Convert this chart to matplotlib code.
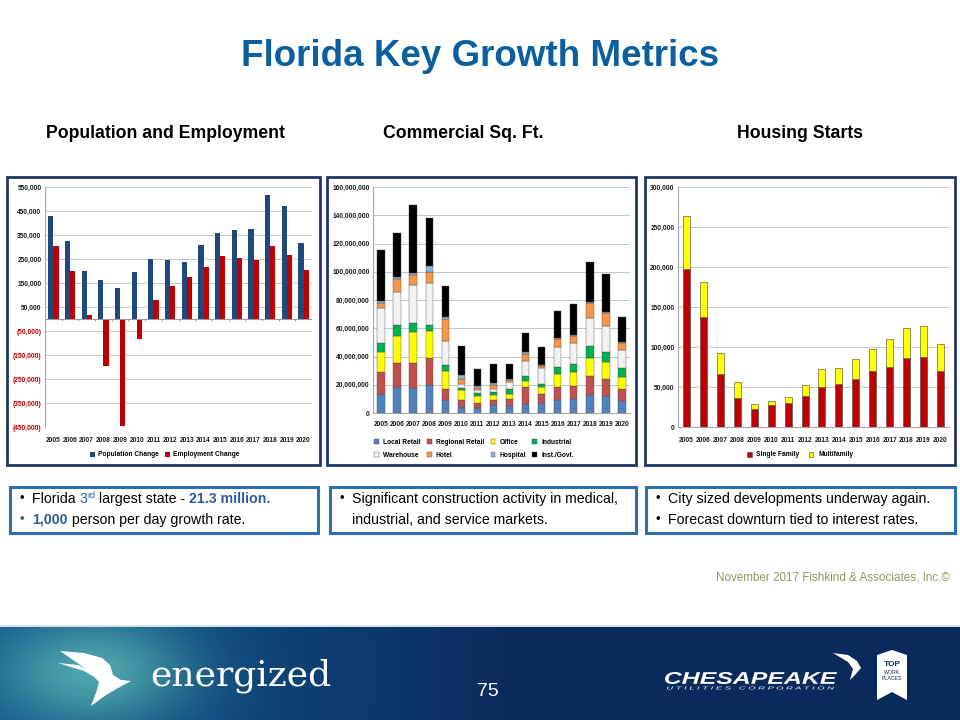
import matplotlib
matplotlib.use('Agg')
import matplotlib.pyplot as plt
import numpy as np
from matplotlib.patches import Rectangle, Polygon, PathPatch
from matplotlib.textpath import TextPath
from matplotlib.font_manager import FontProperties
from matplotlib.transforms import Affine2D

# ---- data ----
years = [str(y) for y in range(2005, 2021)]

pop_change = [429000, 326000, 201000, 161000, 128000, 197000, 250000, 247000,
              239000, 308000, 357000, 369000, 375000, 517000, 471000, 318000]
emp_change = [304000, 201000, 17000, -194000, -444000, -83000, 79000, 139000,
              176000, 218000, 261000, 254000, 247000, 304000, 267000, 204000]

# commercial square feet, millions per category
local_retail = [13.5, 18.2, 17.5, 19.9, 9.0, 4.0, 3.3, 5.4, 5.0, 6.6, 6.9, 9.2, 9.7, 13.0, 12.0, 8.5]
regional_retail = [15.6, 17.3, 18.2, 18.9, 7.8, 5.2, 3.8, 3.8, 5.2, 11.6, 6.6, 9.0, 9.4, 13.2, 11.9, 8.3]
office = [14.4, 18.9, 21.3, 18.9, 13.2, 7.1, 4.7, 3.3, 3.3, 4.7, 4.7, 9.5, 9.7, 13.0, 12.3, 9.0]
industrial = [6.4, 7.8, 6.4, 4.7, 4.0, 1.7, 2.2, 2.2, 3.3, 3.3, 2.6, 5.2, 6.2, 8.1, 7.3, 6.4]
warehouse = [24.3, 23.8, 26.9, 29.3, 17.0, 2.6, 2.3, 2.6, 4.9, 10.7, 10.9, 14.1, 14.4, 20.3, 18.4, 12.2]
hotel = [3.6, 8.8, 7.1, 8.1, 15.7, 3.7, 1.7, 2.6, 1.9, 4.7, 1.6, 5.5, 5.4, 10.4, 9.0, 5.5]
hospital = [1.2, 1.4, 1.9, 4.5, 1.1, 2.4, 1.1, 1.4, 0.7, 1.7, 0.5, 0.5, 0.5, 0.7, 0.7, 0.7]
inst_govt = [36.1, 31.2, 48.2, 33.7, 22.0, 20.8, 11.9, 13.2, 10.5, 13.4, 13.0, 19.3, 22.2, 28.4, 27.0, 17.2]

comm_names = ['Local Retail', 'Regional Retail', 'Office', 'Industrial',
              'Warehouse', 'Hotel', 'Hospital', 'Inst./Govt.']
comm_series = [local_retail, regional_retail, office, industrial,
               warehouse, hotel, hospital, inst_govt]
comm_colors = ['#4f81bd', '#c0504d', '#ffff00', '#00b050',
               '#f2f2f2', '#f79646', '#95b3d7', '#000000']

single_family = [197000, 138000, 66000, 36600, 22900, 27000, 30000, 39000,
                 50000, 53200, 59800, 69800, 75200, 86000, 87700, 69800]
multifamily = [67000, 43000, 26000, 20000, 5400, 5800, 7800, 13800,
               22300, 20300, 25800, 27800, 34500, 37400, 38600, 34500]

plt.rcParams['font.family'] = ['Liberation Sans', 'DejaVu Sans']
TICK = 4.8

fig = plt.figure(figsize=(9.6, 7.2), dpi=100)
# pixel coordinates, origin top-left
px = Affine2D().scale(1 / 960, -1 / 720).translate(0, 1) + fig.transFigure


def ax_at(x0, y0, x1, y1):
    return fig.add_axes([x0 / 960, 1 - y1 / 720, (x1 - x0) / 960, (y1 - y0) / 720])


def frame(x0, y0, x1, y1, color, lw):
    fig.patches.append(Rectangle((x0, y0), x1 - x0, y1 - y0, transform=px,
                                 fill=False, edgecolor=color, lw=lw))


def style_chart(ax):
    ax.set_axisbelow(True)
    ax.grid(axis='y', color='#c4c4c4', lw=0.7)
    for s in ['top', 'right', 'bottom']:
        ax.spines[s].set_visible(False)
    ax.spines['left'].set_color('#a6a6a6')
    ax.tick_params(axis='both', length=0, labelsize=TICK, labelcolor='#1a1a1a')
    ax.tick_params(axis='y', pad=2.5)
    ax.set_xlim(-0.5, 15.5)
    for lab in ax.get_xticklabels() + ax.get_yticklabels():
        lab.set_fontweight('bold')


def fitted_text(s, x0, y0, x1, y1, **font):
    # logo lettering squeezed into a box (pixel coords)
    tp = TextPath((0, 0), s, size=10, prop=FontProperties(**font))
    ext = tp.get_extents()
    tr = (Affine2D().translate(-ext.x0, -ext.y0)
          .scale((x1 - x0) / ext.width, -(y1 - y0) / ext.height)
          .translate(x0, y1) + px)
    fig.patches.append(PathPatch(tp, transform=tr, color='white', lw=0))


x = np.arange(len(years))
leg_font = {'weight': 'bold', 'size': TICK}

# ---- title and headings ----
fig.text(480, 57, 'Florida Key Growth Metrics', transform=px, ha='center', va='center',
         fontsize=26.5, fontweight='bold', color='#0b5f9f')
for label, cx in [('Population and Employment', 165), ('Commercial Sq. Ft.', 463),
                  ('Housing Starts', 800)]:
    fig.text(cx, 133, label, transform=px, ha='center', va='center',
             fontsize=12.7, fontweight='bold')

# ---- population & employment ----
ax1 = ax_at(45, 187, 312, 427)
w = 0.31
ax1.bar(x - w / 2, pop_change, w, color='#1f497d', label='Population Change')
ax1.bar(x + w / 2, emp_change, w, color='#c00000', label='Employment Change')
ax1.set_ylim(-450000, 550000)
yt = list(range(-450000, 550001, 100000))
ax1.set_yticks(yt, [f'{v:,}' if v > 0 else f'({-v:,})' for v in yt])
ax1.set_xticks(x, years)
ax1.axhline(0, color='#9a9a9a', lw=0.8)
ax1.vlines(np.arange(-0.5, 16), -9000, 0, color='#9a9a9a', lw=0.6)
style_chart(ax1)
ax1.tick_params(axis='x', pad=7)
for v, lab in zip(yt, ax1.get_yticklabels()):
    lab.set_color('#c00000' if v < 0 else '#1a1a1a')
ax1.legend(loc='center', bbox_to_anchor=(165 / 960, 1 - 455 / 720), bbox_transform=fig.transFigure,
           ncol=2, frameon=False, handlelength=0.7, handleheight=0.7, columnspacing=0.9,
           handletextpad=0.5, prop=leg_font)

# ---- commercial sq ft ----
ax2 = ax_at(373, 187, 630, 413)
bottom = np.zeros(len(years))
handles = []
for name, vals, col in zip(comm_names, comm_series, comm_colors):
    vals = np.array(vals) * 1e6
    h = ax2.bar(x, vals, 0.46, bottom=bottom, color=col, edgecolor='#505050', lw=0.3, label=name)
    handles.append(h)
    bottom += vals
ax2.set_ylim(0, 160e6)
yt2 = np.arange(0, 160e6 + 1, 20e6)
ax2.set_yticks(yt2, [f'{int(v):,}' for v in yt2])
ax2.set_xticks(x, years)
style_chart(ax2)
ax2.tick_params(axis='x', pad=6)
ax2.spines['bottom'].set_visible(True)
ax2.spines['bottom'].set_color('#a6a6a6')
order = [0, 4, 1, 5, 2, 6, 3, 7]
ax2.legend([handles[i] for i in order], [comm_names[i] for i in order], loc='center',
           bbox_to_anchor=(474 / 960, 1 - 449 / 720), bbox_transform=fig.transFigure,
           ncol=4, frameon=False, handlelength=0.7, handleheight=0.7, columnspacing=1.0,
           handletextpad=0.6, labelspacing=0.9, prop=leg_font)

# ---- housing starts ----
ax3 = ax_at(678, 187, 949, 427)
ax3.bar(x, single_family, 0.41, color='#c00000', edgecolor='#404040', lw=0.4, label='Single Family')
ax3.bar(x, multifamily, 0.41, bottom=single_family, color='#ffff00', edgecolor='#404040', lw=0.4,
        label='Multifamily')
ax3.set_ylim(0, 300000)
yt3 = list(range(0, 300001, 50000))
ax3.set_yticks(yt3, [f'{v:,}' for v in yt3])
ax3.set_xticks(x, years)
style_chart(ax3)
ax3.tick_params(axis='x', pad=7)
ax3.spines['bottom'].set_visible(True)
ax3.spines['bottom'].set_color('#a6a6a6')
ax3.legend(loc='center', bbox_to_anchor=(800 / 960, 1 - 455 / 720), bbox_transform=fig.transFigure,
           ncol=2, frameon=False, handlelength=0.7, handleheight=0.7, columnspacing=1.4,
           handletextpad=0.7, prop=leg_font)

# chart frames
frame(7, 177, 320, 465, '#1f3864', 2)
frame(327, 177, 636, 465, '#1f3864', 2)
frame(645, 177, 955, 465, '#1f3864', 2)

# ---- bullet boxes ----
frame(10, 487, 318, 533, '#2e6fb0', 2.2)
frame(330, 487, 636, 533, '#2e6fb0', 2.2)
frame(646, 487, 955, 533, '#2e6fb0', 2.2)

renderer = fig.canvas.get_renderer()
BLUE = '#2e5c94'
TXT = 10.2


def rich(x0, y0, parts):
    xc = x0
    for s, kw in parts:
        size = kw.get('size', TXT)
        weight = kw.get('weight', 'normal')
        fig.text(xc, y0 + kw.get('dy', 0), s, transform=px, va='center', fontsize=size,
                 fontweight=weight, color=kw.get('color', 'black'))
        a = fig.text(0, 0, s + 'l', transform=px, fontsize=size, fontweight=weight)
        b = fig.text(0, 0, 'l', transform=px, fontsize=size, fontweight=weight)
        xc += a.get_window_extent(renderer).width - b.get_window_extent(renderer).width
        a.remove()
        b.remove()


def bullet(x0, y0, color='black'):
    fig.text(x0, y0, '•', transform=px, va='center', fontsize=TXT - 1, color=color)


bullet(20, 499)
rich(32, 499, [('Florida ', {}), ('3', {'color': BLUE}),
               ('rd', {'color': BLUE, 'size': 6.5, 'dy': -3.5}),
               (' largest state - ', {}), ('21.3 million.', {'color': BLUE, 'weight': 'bold'})])
bullet(20, 520, BLUE)
rich(32, 520, [('1,000', {'color': BLUE, 'weight': 'bold'}), (' person per day growth rate.', {})])

bullet(340, 499)
rich(352, 499, [('Significant construction activity in medical,', {})])
rich(352, 520, [('industrial, and service markets.', {})])

bullet(656, 499)
rich(668, 499, [('City sized developments underway again.', {})])
bullet(656, 520)
rich(668, 520, [('Forecast downturn tied to interest rates.', {})])

fig.text(950, 577, 'November 2017 Fishkind & Associates, Inc.\u00a9', transform=px, ha='right',
         va='center', fontsize=8.4, color='#8a9a62')

# ---- footer band ----
fax = fig.add_axes([0, 0, 1, 94 / 720])
fax.set_axis_off()
gx, gy = np.meshgrid(np.arange(960), np.arange(94))
t = np.clip(gx / 520, 0, 1) ** 1.2
left = np.array([14, 86, 138]) / 255
right = np.array([11, 42, 92]) / 255
img = left[None, None, :] * (1 - t[..., None]) + right[None, None, :] * t[..., None]
glow = np.exp(-((gx - 92) / 95) ** 2 - ((gy - 45) / 55) ** 2)
teal = np.array([78, 165, 172]) / 255
img = img * (1 - glow[..., None]) + teal[None, None, :] * glow[..., None]
fax.imshow(img, aspect='auto', extent=[0, 960, 720, 626], origin='upper')
fax.set_xlim(0, 960)
fax.set_ylim(720, 626)
fig.patches.append(Rectangle((0, 624.5), 960, 2, transform=px, color='#d5e2ee', lw=0))

# left bird logo
fig.patches.append(Polygon([(60, 651), (84, 653), (102, 658), (110, 665), (113, 675), (121, 680),
                            (131, 681), (118, 688), (106, 695), (91, 706), (97, 690), (99, 682),
                            (90, 672), (76, 662)], closed=True, transform=px, color='white', lw=0))
fig.patches.append(Polygon([(58, 663), (78, 665), (94, 673), (98, 679), (84, 671)],
                           closed=True, transform=px, color='white', lw=0))
fig.text(150, 676, 'energized', transform=px, va='center', fontsize=26, color='white',
         family='DejaVu Serif')
fig.text(488, 692, '75', transform=px, ha='center', va='center', fontsize=14, color='white')

# Chesapeake logo
fitted_text('CHESAPEAKE', 665, 672, 837, 684, family='Liberation Sans', weight='bold', style='italic')
fitted_text(' '.join('UTILITIES') + '   ' + ' '.join('CORPORATION'), 667, 686.5, 834, 689.5,
            family='Liberation Sans', style='italic')
fig.patches.append(Polygon([(833, 653), (848, 655), (857, 661), (861, 668), (854, 676),
                            (850, 680), (853, 669), (848, 662)], closed=True, transform=px,
                           color='white', lw=0))
fig.patches.append(Polygon([(877, 655), (892, 650), (907, 655), (907, 700), (892, 692), (877, 700)],
                           closed=True, transform=px, color='white', lw=0))
fig.text(892, 665, 'TOP', transform=px, ha='center', va='center', fontsize=6, fontweight='bold',
         color='#0b2a5c')
fig.text(892, 673, 'WORK', transform=px, ha='center', va='center', fontsize=3.8, color='#0b2a5c')
fig.text(892, 678, 'PLACES', transform=px, ha='center', va='center', fontsize=3.8, color='#0b2a5c')

fig.savefig('out.png', dpi=100)
